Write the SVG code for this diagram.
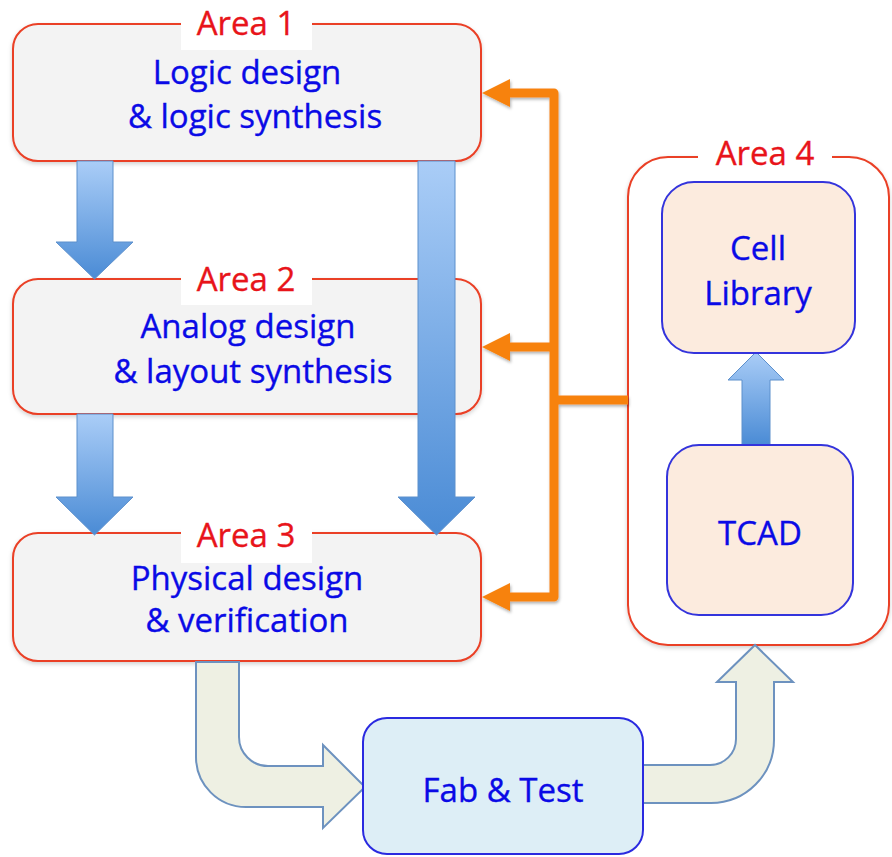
<svg xmlns="http://www.w3.org/2000/svg" width="892" height="857" viewBox="0 0 892 857">
<style>
.area{fill:#f3f3f3;stroke:#ea3f25;stroke-width:2}
.lbl{fill:#e8141a;stroke:#e8141a;stroke-width:0.35;font-family:"Open Sans","Noto Sans",sans-serif;font-size:33px;text-anchor:middle}
.txt{fill:#0a0ae6;stroke:#0a0ae6;stroke-width:0.35;font-family:"Open Sans","Noto Sans",sans-serif;font-size:33px;text-anchor:middle}
.peach{fill:#fcebde;stroke:#3434dc;stroke-width:2}
.fab{fill:#ddeef6;stroke:#2a2ae0;stroke-width:2}
.bent{fill:#eef0e3;stroke:#6d92bf;stroke-width:2}
.blue{fill:url(#bg);stroke:#5d90cc;stroke-width:1}
.or{stroke:#f7820f;stroke-width:9;fill:none;stroke-linejoin:round}
.orh{fill:#f7820f}
</style>
<defs>
<linearGradient id="bg" x1="0" y1="0" x2="0" y2="1">
<stop offset="0" stop-color="#aacdf7"/>
<stop offset="1" stop-color="#4a8bd5"/>
</linearGradient>
<filter id="sh" x="-10%" y="-10%" width="120%" height="130%">
<feDropShadow dx="0" dy="2" stdDeviation="2" flood-color="#000" flood-opacity="0.18"/>
</filter>
<filter id="osh" x="-10%" y="-10%" width="130%" height="130%">
<feDropShadow dx="1" dy="2" stdDeviation="1.5" flood-color="#000" flood-opacity="0.3"/>
</filter>
</defs>

<g id="area4">
<rect x="628" y="157" width="261" height="488" rx="40" fill="#fff" stroke="#ea3f25" stroke-width="2" filter="url(#sh)"/>
<rect x="698" y="136" width="134" height="42" fill="#fff"/>
<text class="lbl" x="765" y="165">Area 4</text>
</g>

<g id="area1">
<rect class="area" x="13" y="24" width="468" height="137" rx="25" filter="url(#sh)"/>
<rect x="181" y="0" width="131" height="50" fill="#fff"/>
<text class="lbl" x="246" y="35">Area 1</text>
<text class="txt" x="247" y="84">Logic design</text>
<text class="txt" x="255" y="128">&amp; logic synthesis</text>
</g>

<g id="area2">
<rect class="area" x="13" y="279" width="468" height="135" rx="25" filter="url(#sh)"/>
<rect x="181" y="258" width="131" height="47" fill="#fff"/>
<text class="lbl" x="246" y="291">Area 2</text>
<text class="txt" x="248" y="338">Analog design</text>
<text class="txt" x="253" y="383">&amp; layout synthesis</text>
</g>

<g id="area3">
<rect class="area" x="13" y="533" width="468" height="128" rx="25" filter="url(#sh)"/>
<rect x="181" y="512" width="131" height="51" fill="#fff"/>
<text class="lbl" x="246" y="547">Area 3</text>
<text class="txt" x="247" y="590">Physical design</text>
<text class="txt" x="247" y="632">&amp; verification</text>
</g>

<g id="connectors">
<g filter="url(#osh)">
<path class="or" d="M509 93 H554 V597 H509"/>
<path class="or" d="M554 347 H509"/>
<path class="or" d="M554 400 H628"/>
<polygon class="orh" points="482,93 510,79 510,107"/>
<polygon class="orh" points="482,347 510,333 510,361"/>
<polygon class="orh" points="482,597 510,583 510,611"/>
</g>
<polygon class="blue" points="77,161 113,161 113,242 133,242 94.5,279 56,242 77,242"/>
<polygon class="blue" points="77,414 113,414 113,497 133,497 94.5,535 56,497 77,497"/>
<polygon class="blue" points="418,161 455,161 455,497 475,497 436.5,535 398,497 418,497"/>
<polygon class="blue" points="742,445 770,445 770,380 784,380 756,352 728,380 742,380"/>
<path class="bent" d="M196 662 V757 A50 50 0 0 0 246 807 H323 V828 L365 787 L323 745 V766 H268 A29 29 0 0 1 239 737 V662 Z"/>
<path class="bent" d="M642 765 H710 A26 26 0 0 0 736 739 V682 H717 L755 645 L793 682 H774 V740 A63 63 0 0 1 711 803 H642 Z"/>
</g>

<g id="cell-library">
<rect class="peach" x="662" y="182" width="193" height="171" rx="32"/>
<text class="txt" x="758" y="260">Cell</text>
<text class="txt" x="758" y="305">Library</text>
</g>

<g id="tcad">
<rect class="peach" x="667" y="445" width="186" height="170" rx="32"/>
<text class="txt" x="760" y="545">TCAD</text>
</g>

<g id="fab-test">
<rect class="fab" x="363" y="718" width="280" height="136" rx="24"/>
<text class="txt" x="503" y="802">Fab &amp; Test</text>
</g>
</svg>
